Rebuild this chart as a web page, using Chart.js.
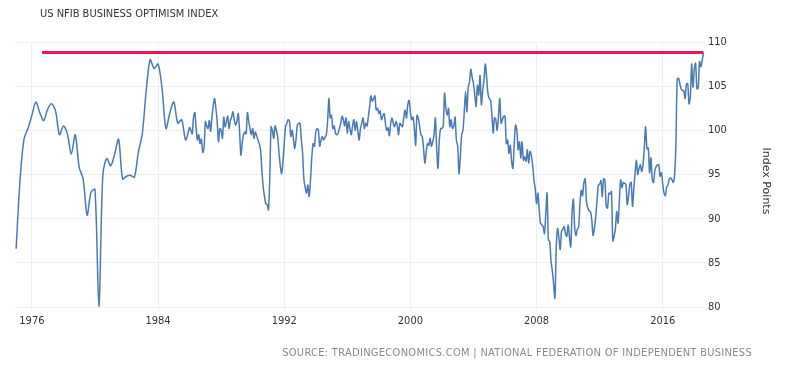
<!DOCTYPE html>
<html lang="en">
<head>
    <meta charset="UTF-8">
    <title>US NFIB Business Optimism Index</title>
    <script src="https://cdn.jsdelivr.net/npm/chart.js"></script>
    <style>
        body { margin: 0; background: #ffffff; }
    </style>
</head>
<body>
    <canvas id="nfibChart" width="800" height="365"></canvas>

    <script>
        // Quarterly readings 1975 Q1 - 1985 Q4
        var quarterlyStart = 1975;
        var quarterlyValues = [
            86.6, 94.4, 99.0, 100.2,
            101.7, 103.2, 102.0, 101.1,
            102.4, 103.0, 102.2, 99.5,
            100.5, 99.6, 97.3, 99.5,
            95.8, 94.5, 90.4, 93.0,
            93.3, 80.0, 95.0, 96.8,
            96.0, 97.3, 99.0, 94.5,
            94.8, 94.9, 94.7, 97.5,
            99.6, 104.5, 108.0, 107.0,
            107.5, 104.8, 100.2, 102.0,
            103.2, 100.8, 101.2, 98.9
        ];

        // Monthly readings Jan 1986 - Aug 2018
        var monthlyStart = 1986;
        var monthlyValues = [
            100.3, 100.0, 99.6, 101.5, 102.0, 100.2, 98.9, 99.5, 98.5, 99.0, 97.5, 98.0,
            101.0, 100.5, 100.2, 101.1, 99.9, 101.5, 102.8, 103.6, 102.5, 101.0, 98.7, 100.2,
            100.0, 99.1, 101.5, 100.4, 101.0, 101.6, 100.2, 101.1, 101.5, 102.1, 101.2, 100.6,
            101.0, 101.9, 100.0, 97.2, 98.5, 99.5, 99.8, 99.6, 102.0, 101.0, 100.2, 99.5,
            100.2, 99.1, 99.8, 99.4, 98.9, 98.5, 97.8, 95.5, 93.6, 92.5, 91.7, 91.6,
            91.0, 94.5, 100.4, 100.0, 99.1, 100.5, 100.0, 99.3, 97.5, 96.0, 95.1, 96.3,
            98.5, 100.4, 100.8, 101.2, 101.0, 99.3, 100.0, 99.0, 97.9, 99.0, 100.6, 100.8,
            100.8, 99.0, 97.4, 94.4, 93.5, 92.9, 93.8, 92.5, 94.4, 97.0, 98.5, 98.2,
            99.8, 100.2, 100.0, 98.2, 98.9, 99.3, 98.9, 99.2, 99.5, 101.0, 103.6, 101.4,
            101.7, 100.2, 100.5, 99.7, 99.5, 99.7, 100.2, 100.8, 101.6, 101.2, 100.5, 101.4,
            99.7, 101.0, 100.2, 99.5, 100.5, 101.2, 100.0, 101.0, 100.0, 98.9, 100.2, 100.8,
            101.4, 100.2, 100.8, 100.5, 101.5, 102.7, 103.9, 103.3, 103.6, 103.9, 102.3, 102.5,
            101.9, 102.2, 101.2, 101.6, 101.9, 100.8, 100.0, 100.3, 99.4, 100.8, 101.4, 100.8,
            100.4, 101.0, 100.6, 99.5, 100.8, 100.6, 100.4, 101.5, 102.3, 101.4, 102.9, 103.4,
            102.1, 101.2, 101.5, 100.2, 98.3, 101.7, 101.4, 100.5, 99.5, 99.3, 98.0, 96.3,
            97.5, 98.5, 98.3, 99.1, 98.2, 98.7, 99.5, 101.4, 98.0, 95.7, 98.9, 100.2,
            100.2, 100.5, 104.2, 102.5, 101.7, 102.5, 100.4, 101.2, 100.2, 100.5, 101.5, 98.9,
            98.2, 95.1, 97.0, 99.5, 100.0, 102.1, 104.4, 102.1, 104.9, 105.5, 106.9, 106.0,
            105.3, 104.0, 102.7, 105.1, 104.0, 106.2, 102.9, 104.5, 105.7, 107.5, 106.0, 104.2,
            103.6, 103.4, 101.8, 99.7, 101.4, 101.2, 100.0, 101.5, 103.6, 100.8, 101.2, 101.6,
            101.6, 98.5, 98.9, 97.4, 98.3, 96.5, 95.7, 98.5, 100.6, 100.0, 97.8, 98.7,
            96.8, 98.7, 96.6, 97.0, 96.5, 97.8, 96.3, 97.6, 97.2, 96.1, 94.4, 93.4,
            91.7, 92.9, 91.0, 89.5, 89.3, 89.1, 88.3, 90.5, 92.9, 87.6, 87.4, 85.2,
            84.1, 82.6, 81.0, 86.8, 88.9, 87.8, 86.5, 88.6, 88.8, 89.1, 88.3, 88.0,
            89.3, 88.0, 86.8, 90.6, 92.2, 89.0, 88.1, 88.8, 89.0, 91.7, 93.2, 92.6,
            94.1, 94.5, 91.9, 91.2, 90.9, 90.8, 89.9, 88.1, 88.9, 90.2, 92.0, 93.8,
            93.9, 94.3, 92.5, 94.5, 94.4, 91.4, 91.2, 92.9, 92.8, 93.1, 87.5, 88.0,
            88.9, 90.8, 89.5, 92.1, 94.4, 93.5, 94.1, 94.0, 93.9, 91.6, 92.5, 93.9,
            94.1, 91.4, 93.4, 95.2, 96.6, 95.0, 95.7, 96.1, 95.3, 96.1, 98.1, 100.4,
            97.9, 98.0, 95.2, 96.9, 94.5, 94.1, 95.4, 95.9, 96.1, 96.1, 94.8, 95.2,
            93.9, 92.9, 92.6, 93.6, 93.8, 94.5, 94.6, 94.4, 94.1, 94.9, 98.4, 105.8,
            105.9, 105.3, 104.7, 104.5, 104.5, 103.6, 105.2, 105.3, 103.0, 103.8, 107.5, 104.9,
            106.9, 107.6, 104.7, 104.8, 107.8, 107.2, 107.9, 108.8
        ];

        // Red reference line (record high), from Aug 1976 to the last reading
        var highLineYears = [1976.65, 2018.58];
        var highLineValues = [108.8, 108.8];

        var tickYears = [1976, 1984, 1992, 2000, 2008, 2016];

        // Build {x, y} points with decimal years
        var points = [];
        quarterlyValues.forEach(function (v, i) {
            points.push({ x: quarterlyStart + i / 4, y: v });
        });
        monthlyValues.forEach(function (v, i) {
            points.push({ x: monthlyStart + i / 12, y: v });
        });
        var highLine = highLineYears.map(function (yr, i) {
            return { x: yr, y: highLineValues[i] };
        });

        // Title, source and axis caption
        var textPlugin = {
            id: 'texts',
            afterDraw: function (chart) {
                var ctx = chart.ctx;
                ctx.save();
                ctx.fillStyle = '#333333';
                ctx.font = '11px "DejaVu Sans Condensed"';
                ctx.textAlign = 'left';
                ctx.textBaseline = 'middle';
                ctx.fillText('US NFIB BUSINESS OPTIMISM INDEX', 40, 14);

                ctx.fillStyle = '#8a8a8a';
                ctx.font = '11px "DejaVu Sans Condensed"';
                ctx.textAlign = 'right';
                ctx.letterSpacing = '0.3px';
                ctx.fillText('SOURCE: TRADINGECONOMICS.COM | NATIONAL FEDERATION OF INDEPENDENT BUSINESS', 752, 353);
                ctx.letterSpacing = '0px';

                ctx.fillStyle = '#333333';
                ctx.font = '11px "DejaVu Sans"';
                ctx.textAlign = 'center';
                ctx.translate(766, 181);
                ctx.rotate(Math.PI / 2);
                ctx.fillText('Index Points', 0, 0);
                ctx.restore();
            }
        };

        var config = {
            type: 'line',
            data: {
                datasets: [{
                    label: 'Business Optimism',
                    data: points,
                    borderColor: '#4a7ab4',
                    borderWidth: 1.5,
                    pointRadius: 0,
                    tension: 0.3,
                    fill: false
                }, {
                    label: 'High',
                    data: highLine,
                    borderColor: '#ee1654',
                    borderWidth: 3,
                    pointRadius: 0,
                    fill: false
                }]
            },
            options: {
                responsive: false,
                animation: false,
                layout: {
                    padding: { left: 15, right: 0, top: 42, bottom: 30 }
                },
                plugins: {
                    legend: { display: false },
                    tooltip: { enabled: false }
                },
                scales: {
                    x: {
                        type: 'linear',
                        min: 1974.93,
                        max: 2018.68,
                        afterBuildTicks: function (axis) {
                            axis.ticks = tickYears.map(function (v) { return { value: v }; });
                        },
                        afterFit: function (axis) { axis.height = 28; },
                        grid: { color: '#eceff3', tickLength: 4 },
                        border: { display: false },
                        ticks: {
                            autoSkip: false,
                            maxRotation: 0,
                            padding: 4,
                            color: '#333333',
                            font: { family: 'DejaVu Sans Condensed', size: 11 },
                            callback: function (v) { return String(v); }
                        }
                    },
                    y: {
                        position: 'right',
                        min: 80,
                        max: 110,
                        afterFit: function (axis) { axis.width = 95; },
                        grid: { color: '#eceff3', drawTicks: false },
                        border: { display: false },
                        ticks: {
                            stepSize: 5,
                            padding: 3,
                            color: '#333333',
                            font: { family: 'DejaVu Sans Condensed', size: 11 }
                        }
                    }
                }
            },
            plugins: [textPlugin]
        };

        var nfibChart = new Chart(document.getElementById('nfibChart'), config);
    </script>
</body>
</html>
